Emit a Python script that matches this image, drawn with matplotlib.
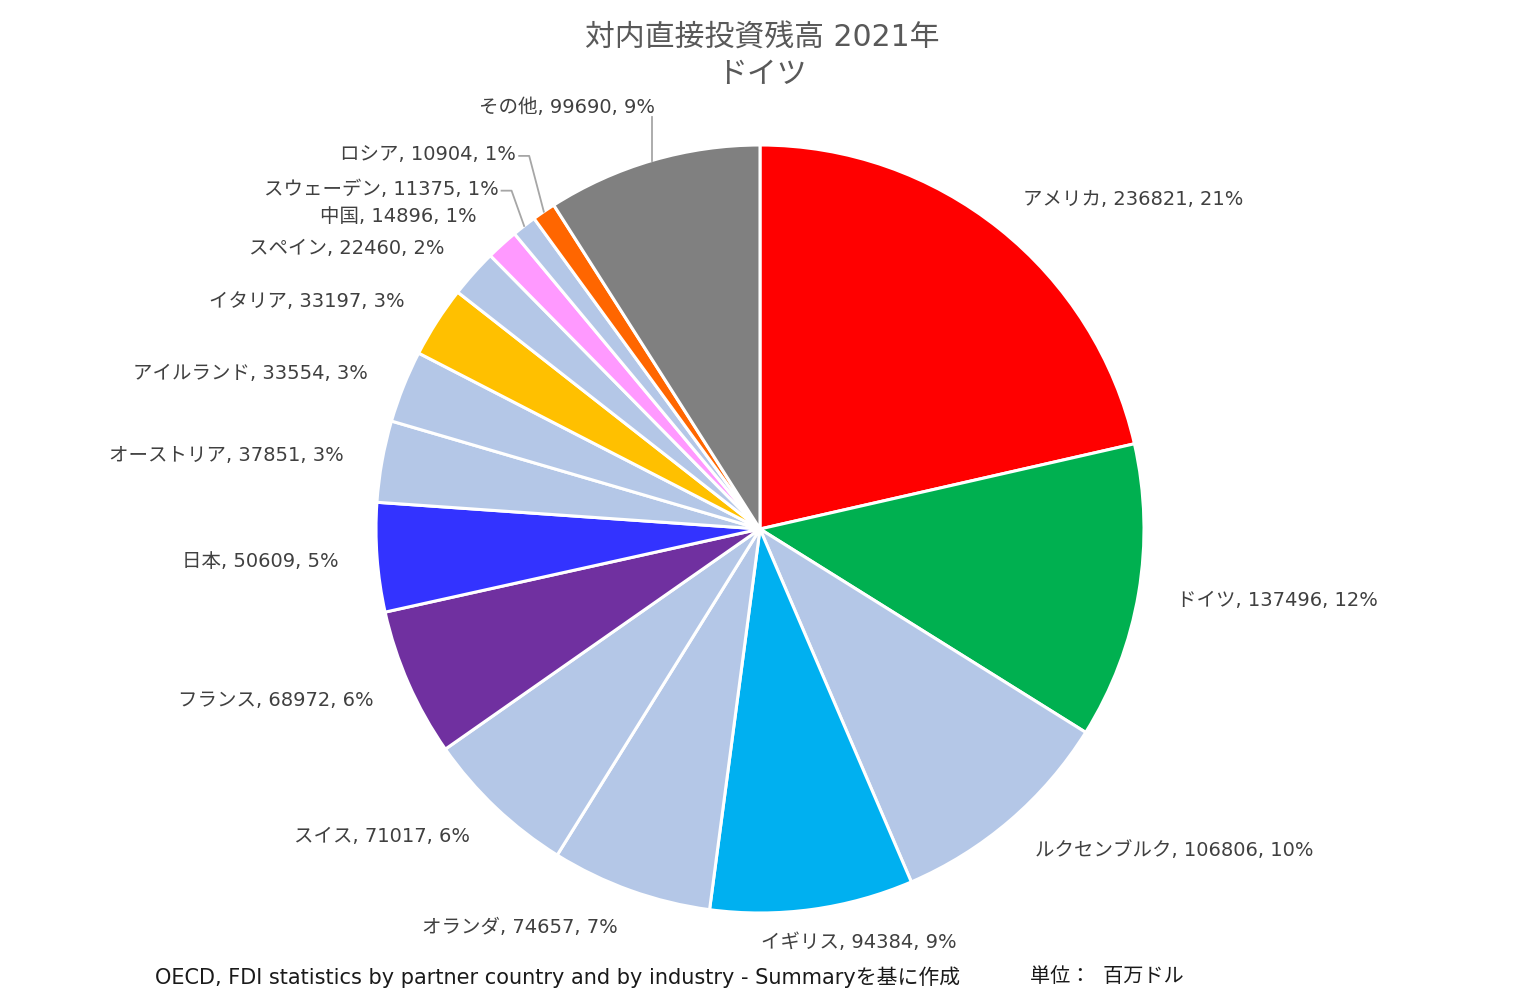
import matplotlib
matplotlib.use("Agg")
import matplotlib.pyplot as plt
import numpy as np

plt.rcParams['font.family'] = ['DejaVu Sans', 'Noto Sans CJK JP']

countries = ["アメリカ", "ドイツ", "ルクセンブルク", "イギリス", "オランダ", "スイス",
             "フランス", "日本", "オーストリア", "アイルランド", "イタリア", "スペイン",
             "中国", "スウェーデン", "ロシア", "その他"]
values = [236821, 137496, 106806, 94384, 74657, 71017, 68972, 50609, 37851,
          33554, 33197, 22460, 14896, 11375, 10904, 99690]
percent_labels = ["21%", "12%", "10%", "9%", "7%", "6%", "6%", "5%", "3%",
                  "3%", "3%", "2%", "1%", "1%", "1%", "9%"]
colors = ["#FF0000", "#00B050", "#B4C7E7", "#00B0F0", "#B4C7E7", "#B4C7E7",
          "#7030A0", "#3333FF", "#B4C7E7", "#B4C7E7", "#FFC000", "#B4C7E7",
          "#FF99FF", "#B4C7E7", "#FF6600", "#808080"]

W, H = 1524, 995
cx, cy, R = 760, 530, 384
PT = 72 / 100  # points per pixel

fig = plt.figure(figsize=(W / 100, H / 100), dpi=100)
ax = fig.add_axes([0, 0, 1, 1])
ax.axis('off')

wedges, _ = ax.pie(values, colors=colors, startangle=90, counterclock=False,
                   radius=1.0, center=(0, 0),
                   wedgeprops=dict(edgecolor='white', linewidth=2.2))
ax.set_xlim(-cx / R, (W - cx) / R)
ax.set_ylim(-(H - cy) / R, cy / R)
ax.set_aspect('equal')

label_color = "#404040"
line_color = "#A6A6A6"
# special label placements: (dx px, dy px up, ha)
special = {
    "イギリス": (41, 6, 'center'),
    "スウェーデン": (-2, 7, 'right'),
    "ロシア": (-6, 26, 'right'),
    "その他": (13, 17, 'right'),
}

for w, name, val, pct in zip(wedges, countries, values, percent_labels):
    ang = np.deg2rad((w.theta1 + w.theta2) / 2)
    ux, uy = np.cos(ang), np.sin(ang)
    axp, ayp = 1.1 * ux, 1.1 * uy
    if ux > 0.3:
        ha = 'left'
    elif ux < -0.3:
        ha = 'right'
    else:
        ha = 'center'
    dx, dy = 0, 0
    if name in special:
        dx, dy, ha = special[name]
    txt = f"{name}, {val}, {pct}"
    ax.annotate(txt, xy=(axp, ayp), xytext=(dx * PT, dy * PT), textcoords='offset points',
                ha=ha, va='center', fontsize=14, color=label_color)
    tx = axp + dx / R
    ty = ayp + dy / R
    if name == "その他":
        lx = tx - 3 / R
        ly_top = ty - 11 / R
        ly_bot = np.sqrt(max(1 - lx ** 2, 0))
        ax.plot([lx, lx], [ly_top, ly_bot], color=line_color, lw=1.3)
    elif name in ("スウェーデン", "ロシア"):
        sx = tx + 3 / R
        kx = sx + 10 / R
        ax.plot([sx, kx, 1.0 * ux], [ty - 2 / R, ty - 2 / R, 1.0 * uy],
                color=line_color, lw=1.3)

fig.text(0.5, 1 - 38 / H, "対内直接投資残高 2021年", ha='center', va='center',
         fontsize=21.5, color="#595959")
fig.text(0.5, 1 - 74 / H, "ドイツ", ha='center', va='center',
         fontsize=21.5, color="#595959")
fig.text(155 / W, 1 - 977 / H,
         "OECD, FDI statistics by partner country and by industry - Summaryを基に作成",
         ha='left', va='center', fontsize=15, color="#1a1a1a")
fig.text(1030 / W, 1 - 977 / H, "単位：  百万ドル", ha='left', va='center',
         fontsize=14.5, color="#1a1a1a")

fig.savefig("out.png", dpi=100)
